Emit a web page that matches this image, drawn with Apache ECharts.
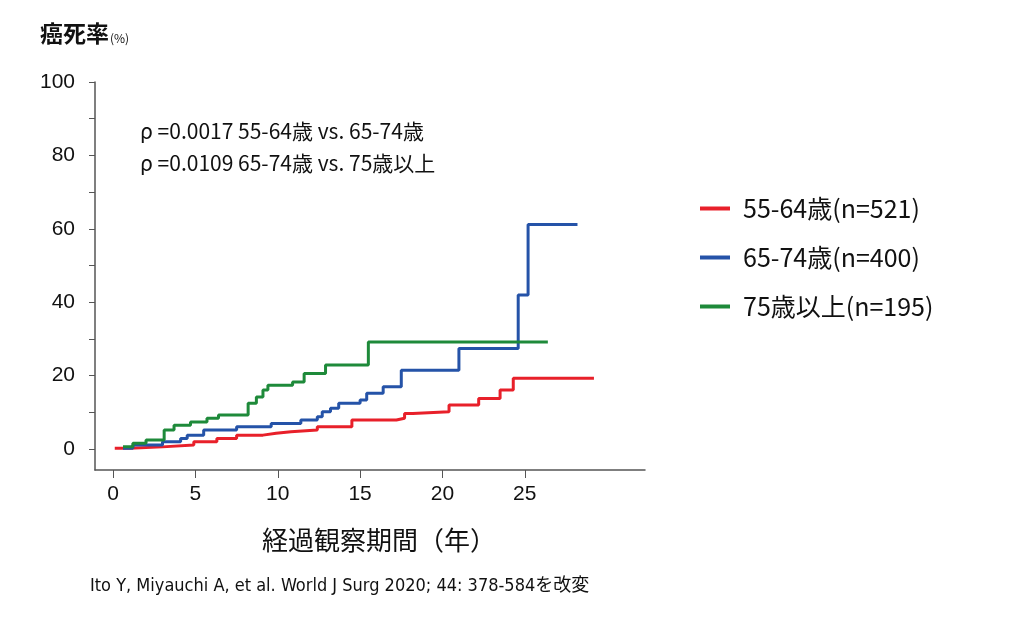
<!DOCTYPE html>
<html><head><meta charset="utf-8">
<script src="https://cdn.jsdelivr.net/npm/echarts@6/dist/echarts.min.js"></script>
<style>body{margin:0;background:#fff}#c{width:1024px;height:627px}</style>
</head><body><div id="c"></div>
<script>
const seriesNames = ['55-64歳(n=521)', '65-74歳(n=400)', '75歳以上(n=195)'];
const redPts = [[0.1,0.2],[1.0,0.6],[3.0,1.1],[4.9,2.0],[6.3,2.9],[7.5,3.8],[9.1,4.3],[9.9,4.7],[10.8,5.2],[12.4,6.1],[14.5,7.9],[17.2,8.4],[17.7,9.7],[18.2,10.2],[20.4,12.0],[22.2,13.8],[23.5,16.1],[24.3,19.3],[29.2,19.3]];
const bluePts = [[0.6,0.2],[1.2,1.1],[3.0,2.0],[4.1,2.9],[4.5,3.8],[5.5,5.2],[7.5,6.1],[9.6,7.0],[11.4,7.9],[12.4,8.8],[12.7,10.2],[13.2,11.1],[13.7,12.5],[15.0,13.4],[15.4,15.2],[16.4,17.0],[17.5,21.5],[21.0,27.4],[24.6,42],[25.2,61.2],[28.2,61.2]];
const greenPts = [[0.6,0.6],[1.2,1.6],[2.0,2.5],[3.1,5.2],[3.7,6.5],[4.7,7.4],[5.7,8.4],[6.4,9.3],[8.2,12.5],[8.7,14.2],[9.1,16.1],[9.4,17.4],[10.9,18.3],[11.6,20.6],[12.9,22.9],[15.5,29.2],[26.4,29.2]];
const xTicks = [0,5,10,15,20,25];
const yTicks = [0,20,40,60,80,100];
const yMinorTicks = [0,10,20,30,40,50,60,70,80,90,100];
const colors = ['#e8202a','#2553a8','#1e8a3a'];
const font = 'Liberation Sans, Arial, sans-serif';
const jp = '"Noto Sans CJK JP", sans-serif';
const chart = echarts.init(document.getElementById('c'));
const mk = (name, data, color) => ({name, type:'line', step:'end', data, symbol:'none', lineStyle:{color, width:3}, itemStyle:{color}});
chart.setOption({
  animation:false,
  grid:{left:95, right:379, top:82, bottom:157},
  xAxis:{type:'value', min:-1.1, max:32.3,
    axisLine:{onZero:false, lineStyle:{color:'#555', width:1.5}},
    axisTick:{customValues:xTicks, length:8, lineStyle:{color:'#555'}},
    axisLabel:{customValues:xTicks, fontSize:21, color:'#111', fontFamily:font, margin:14},
    splitLine:{show:false}},
  yAxis:{type:'value', min:-5.7, max:100,
    axisLine:{show:true, onZero:false, lineStyle:{color:'#555', width:1.5}},
    axisTick:{show:true, customValues:yMinorTicks, length:6, lineStyle:{color:'#555'}},
    axisLabel:{customValues:yTicks, fontSize:21, color:'#111', fontFamily:font, margin:20},
    splitLine:{show:false}},
  legend:{orient:'vertical', left:695, top:191, itemGap:24, icon:'rect', itemWidth:30, itemHeight:4,
    textStyle:{fontSize:25, fontFamily:jp, color:'#111', padding:[0,0,0,8]}, data:seriesNames},
  series:[mk(seriesNames[0], redPts, colors[0]), mk(seriesNames[1], bluePts, colors[1]), mk(seriesNames[2], greenPts, colors[2])],
  graphic:[
    {type:'text', left:40, top:22, style:{text:'癌死率', font:'bold 23px "Noto Sans CJK JP"', fill:'#111'}},
    {type:'text', left:110, top:32, style:{text:'(%)', font:'12px "Noto Sans CJK JP"', fill:'#111'}},
    {type:'text', left:140, top:121, style:{text:'ρ =0.0017 55-64歳 vs. 65-74歳', font:'21px "Noto Sans CJK JP"', fill:'#111'}},
    {type:'text', left:140, top:153, style:{text:'ρ =0.0109 65-74歳 vs. 75歳以上', font:'21px "Noto Sans CJK JP"', fill:'#111'}},
    {type:'text', left:262, top:527, style:{text:'経過観察期間（年）', font:'26px "Noto Sans CJK JP"', fill:'#111'}},
    {type:'text', left:90, top:577, style:{text:'Ito Y, Miyauchi A, et al. World J Surg 2020; 44: 378-584を改変', font:'18px "DejaVu Sans Condensed", "Noto Sans CJK JP"', fill:'#111'}}
  ]
});
</script></body></html>
